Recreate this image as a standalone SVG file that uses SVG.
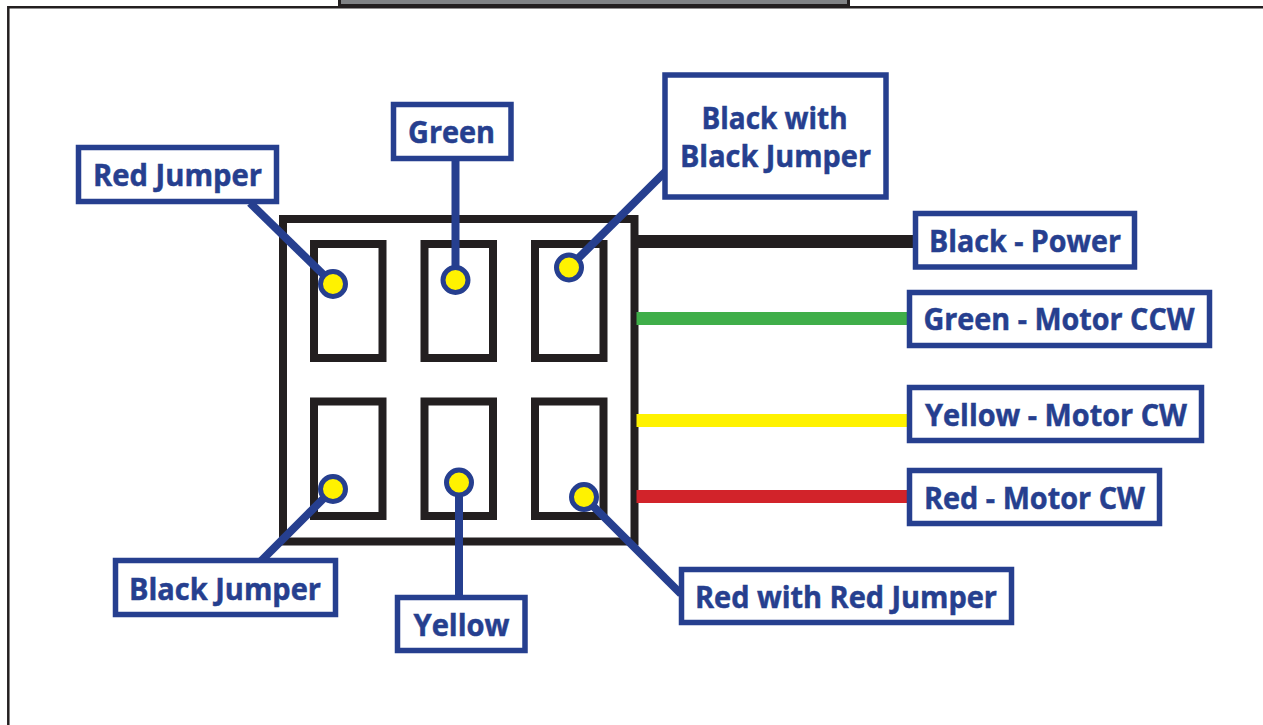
<svg xmlns="http://www.w3.org/2000/svg" width="1263" height="725" viewBox="0 0 1263 725">
<style>
.frame{fill:none;stroke:#231f20;stroke-width:2.5}
.k{fill:#fff;stroke:#231f20;stroke-width:8}
.label rect{fill:#fff;stroke:#263f8f;stroke-width:5.500}
.label text{fill:#263f8f;stroke:#263f8f;stroke-width:.5;font-family:"Open Sans","Noto Sans",sans-serif;font-weight:700;font-size:30px;text-anchor:start}
.lead{stroke:#263f8f;stroke-width:8;fill:none}
.wire{stroke-width:13;fill:none}
.pin{fill:#fff200;stroke:#263f8f;stroke-width:5}
</style>
<rect width="1263" height="725" fill="#fff"/>
<g id="frame">
<rect x="339.500" y="-6" width="509" height="11.500" fill="#808285" stroke="#231f20" stroke-width="3"/>
<path class="frame" d="M1263 7.300H8.300V725"/>
</g>
<g id="switch-body">
<rect class="k" x="283" y="219" width="351.500" height="322.500"/>
<rect class="k" x="314" y="244" width="68.500" height="114"/>
<rect class="k" x="424.500" y="244" width="68.500" height="114"/>
<rect class="k" x="535" y="244" width="68.500" height="114"/>
<rect class="k" x="314" y="401.500" width="68.500" height="114.500"/>
<rect class="k" x="424.500" y="401.500" width="68.500" height="114.500"/>
<rect class="k" x="535" y="401.500" width="68.500" height="114.500"/>
</g>
<g id="connectors">
<path class="wire" stroke="#231f20" d="M637 241.500H915"/>
<path class="wire" stroke="#3fae49" d="M636.500 318.500H909"/>
<path class="wire" stroke="#fff200" d="M636.500 420.500H909"/>
<path class="wire" stroke="#d2232a" d="M636.500 496.500H909"/>
<path class="lead" d="M250 203L333 284"/>
<path class="lead" d="M455.500 159V280"/>
<path class="lead" d="M666 171L569 267.500"/>
<path class="lead" d="M333 489L261 561"/>
<path class="lead" d="M459 482V597"/>
<path class="lead" d="M584 497L681 594"/>
</g>
<g id="pins">
<circle class="pin" cx="333" cy="284" r="12.500"/>
<circle class="pin" cx="455.500" cy="280" r="12.500"/>
<circle class="pin" cx="569" cy="267.500" r="12.500"/>
<circle class="pin" cx="333" cy="489" r="12.500"/>
<circle class="pin" cx="459" cy="482.500" r="12.500"/>
<circle class="pin" cx="584" cy="497" r="12.500"/>
</g>
<g id="n-red-jumper" class="label"><rect x="78.500" y="147.500" width="198" height="54"/><text x="93" y="186" textLength="169" lengthAdjust="spacingAndGlyphs">Red Jumper</text></g>
<g id="n-green" class="label"><rect x="393.500" y="104.500" width="117.500" height="54"/><text x="408" y="143" textLength="87" lengthAdjust="spacingAndGlyphs">Green</text></g>
<g id="n-black-with-jumper" class="label"><rect x="665" y="75" width="221" height="122"/><text x="701.500" y="129" textLength="146" lengthAdjust="spacingAndGlyphs">Black with</text><text x="680" y="167" textLength="191" lengthAdjust="spacingAndGlyphs">Black Jumper</text></g>
<g id="n-black-power" class="label"><rect x="915.500" y="213.500" width="219" height="53.500"/><text x="929" y="252" textLength="192" lengthAdjust="spacingAndGlyphs">Black - Power</text></g>
<g id="n-green-ccw" class="label"><rect x="909.500" y="292.500" width="300" height="53"/><text x="923.500" y="330" textLength="271" lengthAdjust="spacingAndGlyphs">Green - Motor CCW</text></g>
<g id="n-yellow-cw" class="label"><rect x="909.500" y="387.500" width="292" height="53"/><text x="925" y="426" textLength="262" lengthAdjust="spacingAndGlyphs">Yellow - Motor CW</text></g>
<g id="n-red-cw" class="label"><rect x="909.500" y="470.500" width="250" height="53"/><text x="924" y="509" textLength="221" lengthAdjust="spacingAndGlyphs">Red - Motor CW</text></g>
<g id="n-black-jumper" class="label"><rect x="115.500" y="560.500" width="220" height="54"/><text x="129" y="600" textLength="192" lengthAdjust="spacingAndGlyphs">Black Jumper</text></g>
<g id="n-yellow" class="label"><rect x="397.500" y="597.500" width="127.500" height="53"/><text x="413.500" y="636" textLength="96" lengthAdjust="spacingAndGlyphs">Yellow</text></g>
<g id="n-red-with-jumper" class="label"><rect x="681.500" y="569.500" width="330" height="53"/><text x="695" y="608" textLength="302" lengthAdjust="spacingAndGlyphs">Red with Red Jumper</text></g>
</svg>
